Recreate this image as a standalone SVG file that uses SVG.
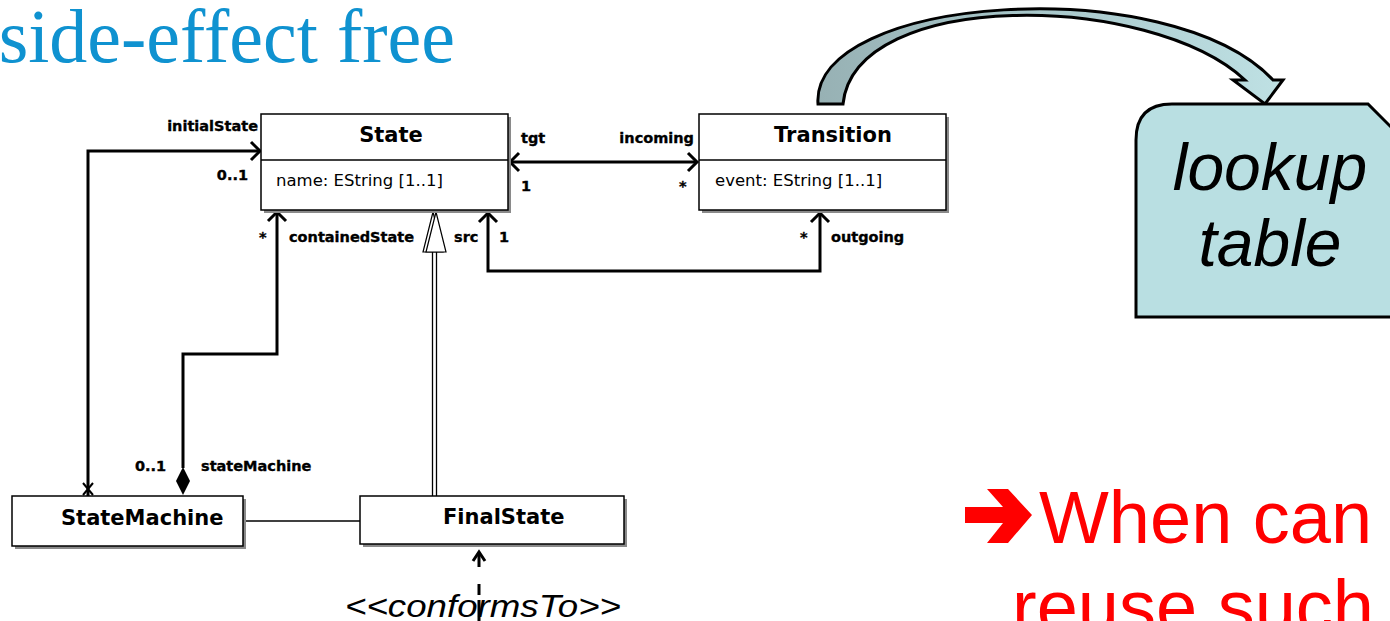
<svg xmlns="http://www.w3.org/2000/svg" width="1390" height="621" viewBox="0 0 1390 621">
<defs>
<linearGradient id="arcGrad" x1="0" y1="0" x2="1" y2="0">
<stop offset="0" stop-color="#97b1b4"/>
<stop offset="0.5" stop-color="#a9c8cb"/>
<stop offset="1" stop-color="#bfe1e4"/>
</linearGradient>
<style>
.box{fill:#fff;stroke:#000;stroke-width:1.5}
.shadow{fill:#8a8a8a}
.hdr{font-family:"DejaVu Sans",sans-serif;font-weight:bold;font-size:21px;fill:#000}
.attr{font-family:"DejaVu Sans",sans-serif;font-size:16.5px;fill:#000}
.lbl{font-family:"DejaVu Sans",sans-serif;font-weight:bold;font-size:14.5px;fill:#000;stroke:#000;stroke-width:0.35}
.conn{fill:none;stroke:#000;stroke-width:3}
.thin{fill:none;stroke:#000;stroke-width:1.3}
.head{fill:none;stroke:#000;stroke-width:3;stroke-linejoin:miter}
.red{font-family:"Liberation Sans",Arial,sans-serif;font-size:74px;fill:#ff0000}
.big{font-family:"Liberation Sans",Arial,sans-serif;font-style:italic;font-size:66px;fill:#000}
</style>
</defs>
<rect width="1390" height="621" fill="#fff"/>

<text x="455" y="62" text-anchor="end" font-family="Liberation Serif, serif" font-size="76" fill="#0f92d0">side-effect free</text>

<g id="curved-arrow">
<path d="M818,104 C810,-5 1170,-30 1273,80 L1283,80 L1265,104 L1233,80 L1245,80 C1150,-8 855,-12 843,104 Z" fill="url(#arcGrad)" stroke="#000" stroke-width="3" stroke-linejoin="miter"/>
</g>

<g id="lookup-table">
<path d="M1136,317 L1136,140 Q1136,104 1172,104 L1368,104 L1392,128 L1392,317 Z" fill="#b9dfe2" stroke="#000" stroke-width="3"/>
<text class="big" x="1270" y="190" text-anchor="middle">lookup</text>
<text class="big" x="1270" y="266" text-anchor="middle">table</text>
</g>

<g id="connectors">
<!-- initialState -->
<path class="conn" d="M88,496 V151 H260"/>
<path class="head" d="M251,142 L260,151 L251,160"/>
<path class="thin" d="M83,483 L93,495 M93,483 L83,495" style="stroke-width:2"/>
<!-- containedState composition -->
<path class="conn" d="M183,468 V354 H277 V212"/>
<path class="head" d="M268,221 L277,212 L286,221"/>
<path d="M183,467 L190,481 L183,495 L176,481 Z" fill="#000"/>
<!-- tgt / incoming -->
<path class="conn" d="M510,162 H697"/>
<path class="head" d="M519,153 L510,162 L519,171"/>
<path class="head" d="M688,153 L697,162 L688,171"/>
<!-- src / outgoing -->
<path class="conn" d="M488,213 V271 H820 V213"/>
<path class="head" d="M479,222 L488,213 L497,222"/>
<path class="head" d="M811,222 L820,213 L829,222"/>
<!-- generalization FinalState -> State -->
<path class="thin" d="M432.5,252 V496 M436.5,252 V496"/>
<path d="M433,212 L443,252 L423,252 Z" fill="#fff" stroke="#000" stroke-width="1.2"/>
<path d="M436,212 L446,252 L426,252 Z" fill="#fff" stroke="#000" stroke-width="1.2"/>
<!-- StateMachine - FinalState -->
<path class="thin" d="M243,521 H360"/>
<!-- conformsTo -->
<path class="conn" d="M479,621 V551" stroke-dasharray="21 5 11 17 15 100"/>
<path class="head" d="M473,561 L479,552 L485,561"/>
</g>

<g id="labels">
<text class="lbl" x="258" y="131" text-anchor="end">initialState</text>
<text class="lbl" x="248" y="180" text-anchor="end">0..1</text>
<text class="lbl" x="521" y="143">tgt</text>
<text class="lbl" x="694" y="143" text-anchor="end">incoming</text>
<text class="lbl" x="521" y="191">1</text>
<text class="lbl" x="679" y="191">*</text>
<text class="lbl" x="259" y="242">*</text>
<text class="lbl" x="289" y="242">containedState</text>
<text class="lbl" x="454" y="242">src</text>
<text class="lbl" x="499" y="242">1</text>
<text class="lbl" x="800" y="242">*</text>
<text class="lbl" x="831" y="242">outgoing</text>
<text class="lbl" x="135" y="471">0..1</text>
<text class="lbl" x="201" y="471">stateMachine</text>
</g>

<g id="State">
<rect class="shadow" x="264" y="117" width="247" height="96"/>
<rect class="box" x="261" y="114" width="247" height="96"/>
<line x1="261" y1="160" x2="508" y2="160" stroke="#000" stroke-width="1.3"/>
<text class="hdr" x="391" y="142" text-anchor="middle">State</text>
<text class="attr" x="276" y="186">name: EString [1..1]</text>
</g>

<g id="Transition">
<rect class="shadow" x="702" y="117" width="247" height="96"/>
<rect class="box" x="699" y="114" width="247" height="96"/>
<line x1="699" y1="160" x2="946" y2="160" stroke="#000" stroke-width="1.3"/>
<text class="hdr" x="833" y="142" text-anchor="middle">Transition</text>
<text class="attr" x="715" y="186">event: EString [1..1]</text>
</g>

<g id="StateMachine">
<rect class="shadow" x="15" y="499" width="231" height="50"/>
<rect class="box" x="12" y="496" width="231" height="50"/>
<text class="hdr" x="61" y="525">StateMachine</text>
</g>

<g id="FinalState">
<rect class="shadow" x="363" y="499" width="264" height="48"/>
<rect class="box" x="360" y="496" width="264" height="48"/>
<text class="hdr" x="443" y="524">FinalState</text>
</g>

<text x="483" y="617" text-anchor="middle" font-family="Liberation Sans, Arial, sans-serif" font-style="italic" font-size="32" textLength="276" lengthAdjust="spacingAndGlyphs" fill="#000">&lt;&lt;conformsTo&gt;&gt;</text>

<g id="red-note">
<polygon points="965,507 1003,507 987,489 1008,489 1032,515 1008,543 987,543 1003,523 965,523" fill="#ff0000"/>
<text class="red" x="1039" y="543">When can</text>
<text class="red" x="1012" y="632">reuse such</text>
</g>
</svg>
